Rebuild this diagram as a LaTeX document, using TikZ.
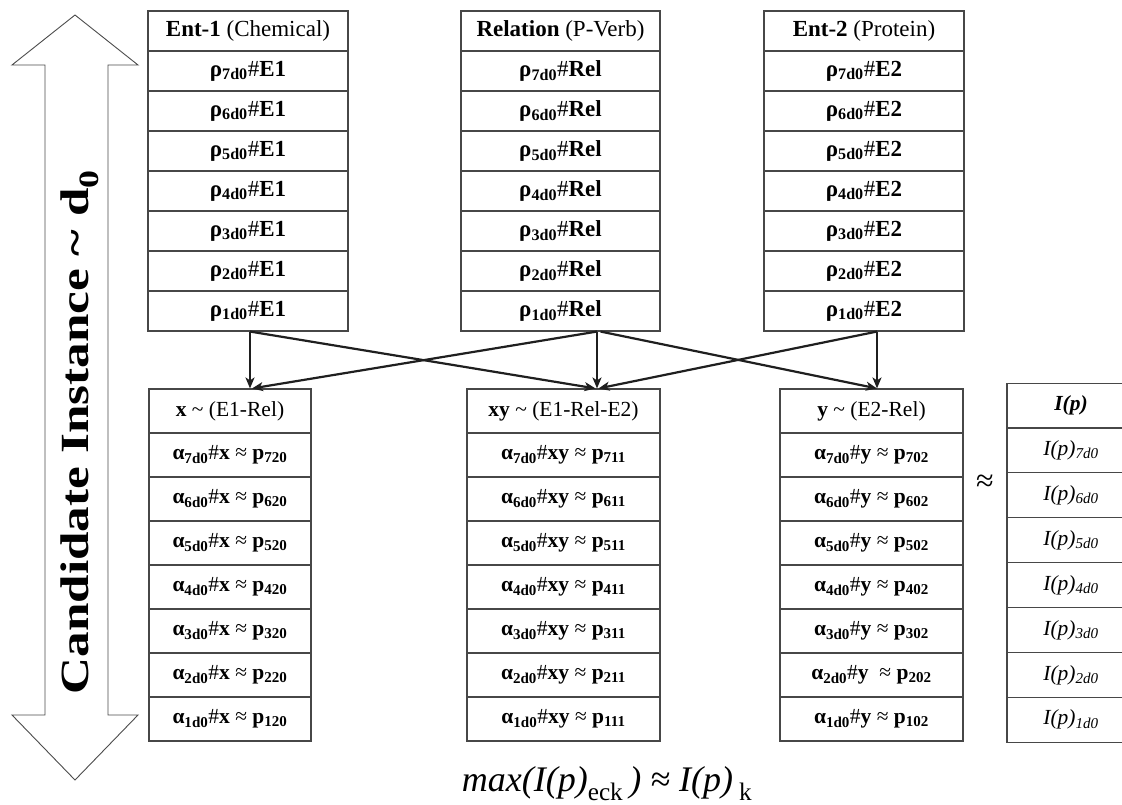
\documentclass[tikz,border=0pt]{standalone}
\usepackage{fontspec}
\setmainfont{Liberation Serif}
\usetikzlibrary{arrows.meta}

\tikzset{
  cellbox/.style={draw=black!72, line width=1.1pt, inner sep=0pt, minimum width=#1, anchor=center},
  toprow/.style={cellbox=#1, minimum height=40, font=\fontsize{23}{26}\selectfont},
  botrow/.style={cellbox=#1, minimum height=44, font=\fontsize{21.5}{25}\selectfont},
  iprow/.style={cellbox=#1, minimum height=44.9, font=\fontsize{21.5}{25}\selectfont},
  link/.style={line width=2.2pt, draw=black!88, -{Stealth[length=11pt,width=9pt,inset=3pt]}},
}
\newcommand{\rhotxt}[2]{\textbf{ρ\textsubscript{#1}}\#\textbf{#2}}
\newcommand{\alphatxt}[3]{\textbf{α\textsubscript{#1}}\#\textbf{#2} ≈ \textbf{p\textsubscript{#3}}}
\newcommand{\iptxt}[1]{\textit{I(p)\textsubscript{#1}}}

\begin{document}
\begin{tikzpicture}[x=1pt, y=-1pt]

  %% ════ double arrow on the left ════
  \draw[line width=0.9pt, draw=black!70, fill=white]
    (75,15) -- (138,65) -- (108,65) -- (108,715) -- (138,715) -- (75,780)
    -- (12,715) -- (45,715) -- (45,65) -- (12,65) -- cycle;
  \node[rotate=90, xscale=1.28, font=\fontsize{40}{46}\selectfont\bfseries] (axis) at (80,432)
    {Candidate Instance \textasciitilde{} d\textsubscript{0}};

  %% ════ top tables: Ent-1 / Relation / Ent-2 ════
  \node[toprow=200] (e1h) at (248,31)  {\textbf{Ent-1} (Chemical)};
  \node[toprow=200] (e17) at (248,71)  {\rhotxt{7d0}{E1}};
  \node[toprow=200] (e16) at (248,111) {\rhotxt{6d0}{E1}};
  \node[toprow=200] (e15) at (248,151) {\rhotxt{5d0}{E1}};
  \node[toprow=200] (e14) at (248,191) {\rhotxt{4d0}{E1}};
  \node[toprow=200] (e13) at (248,231) {\rhotxt{3d0}{E1}};
  \node[toprow=200] (e12) at (248,271) {\rhotxt{2d0}{E1}};
  \node[toprow=200] (e11) at (248,311) {\rhotxt{1d0}{E1}};

  \node[toprow=199] (relh) at (560.5,31)  {\textbf{Relation} (P-Verb)};
  \node[toprow=199] (rel7) at (560.5,71)  {\rhotxt{7d0}{Rel}};
  \node[toprow=199] (rel6) at (560.5,111) {\rhotxt{6d0}{Rel}};
  \node[toprow=199] (rel5) at (560.5,151) {\rhotxt{5d0}{Rel}};
  \node[toprow=199] (rel4) at (560.5,191) {\rhotxt{4d0}{Rel}};
  \node[toprow=199] (rel3) at (560.5,231) {\rhotxt{3d0}{Rel}};
  \node[toprow=199] (rel2) at (560.5,271) {\rhotxt{2d0}{Rel}};
  \node[toprow=199] (rel1) at (560.5,311) {\rhotxt{1d0}{Rel}};

  \node[toprow=200] (e2h) at (864,31)  {\textbf{Ent-2} (Protein)};
  \node[toprow=200] (e27) at (864,71)  {\rhotxt{7d0}{E2}};
  \node[toprow=200] (e26) at (864,111) {\rhotxt{6d0}{E2}};
  \node[toprow=200] (e25) at (864,151) {\rhotxt{5d0}{E2}};
  \node[toprow=200] (e24) at (864,191) {\rhotxt{4d0}{E2}};
  \node[toprow=200] (e23) at (864,231) {\rhotxt{3d0}{E2}};
  \node[toprow=200] (e22) at (864,271) {\rhotxt{2d0}{E2}};
  \node[toprow=200] (e21) at (864,311) {\rhotxt{1d0}{E2}};

  %% ════ bottom tables: x / xy / y / I(p) ════
  \node[botrow=162] (xh) at (230,411) {\textbf{x} \textasciitilde{} (E1-Rel)};
  \node[botrow=162] (x7) at (230,455) {\alphatxt{7d0}{x}{720}};
  \node[botrow=162] (x6) at (230,499) {\alphatxt{6d0}{x}{620}};
  \node[botrow=162] (x5) at (230,543) {\alphatxt{5d0}{x}{520}};
  \node[botrow=162] (x4) at (230,587) {\alphatxt{4d0}{x}{420}};
  \node[botrow=162] (x3) at (230,631) {\alphatxt{3d0}{x}{320}};
  \node[botrow=162] (x2) at (230,675) {\alphatxt{2d0}{x}{220}};
  \node[botrow=162] (x1) at (230,719) {\alphatxt{1d0}{x}{120}};

  \node[botrow=193] (xyh) at (563.5,411) {\textbf{xy} \textasciitilde{} (E1-Rel-E2)};
  \node[botrow=193] (xy7) at (563.5,455) {\alphatxt{7d0}{xy}{711}};
  \node[botrow=193] (xy6) at (563.5,499) {\alphatxt{6d0}{xy}{611}};
  \node[botrow=193] (xy5) at (563.5,543) {\alphatxt{5d0}{xy}{511}};
  \node[botrow=193] (xy4) at (563.5,587) {\alphatxt{4d0}{xy}{411}};
  \node[botrow=193] (xy3) at (563.5,631) {\alphatxt{3d0}{xy}{311}};
  \node[botrow=193] (xy2) at (563.5,675) {\alphatxt{2d0}{xy}{211}};
  \node[botrow=193] (xy1) at (563.5,719) {\alphatxt{1d0}{xy}{111}};

  \node[botrow=183] (yh) at (871.5,411) {\textbf{y} \textasciitilde{} (E2-Rel)};
  \node[botrow=183] (y7) at (871.5,455) {\alphatxt{7d0}{y}{702}};
  \node[botrow=183] (y6) at (871.5,499) {\alphatxt{6d0}{y}{602}};
  \node[botrow=183] (y5) at (871.5,543) {\alphatxt{5d0}{y}{502}};
  \node[botrow=183] (y4) at (871.5,587) {\alphatxt{4d0}{y}{402}};
  \node[botrow=183] (y3) at (871.5,631) {\alphatxt{3d0}{y}{302}};
  \node[botrow=183] (y2) at (871.5,675) {\alphatxt{2d0}{y\ }{202}};
  \node[botrow=183] (y1) at (871.5,719) {\alphatxt{1d0}{y}{102}};

  \node[iprow=128] (iph) at (1071,405.5) {\textbf{\textit{I(p)}}};
  \node[iprow=128] (ip7) at (1071,450.4) {\iptxt{7d0}};
  \node[iprow=128] (ip6) at (1071,495.3) {\iptxt{6d0}};
  \node[iprow=128] (ip5) at (1071,540.2) {\iptxt{5d0}};
  \node[iprow=128] (ip4) at (1071,585.1) {\iptxt{4d0}};
  \node[iprow=128] (ip3) at (1071,630.0) {\iptxt{3d0}};
  \node[iprow=128] (ip2) at (1071,674.9) {\iptxt{2d0}};
  \node[iprow=128] (ip1) at (1071,719.8) {\iptxt{1d0}};

  \node[font=\fontsize{32}{36}\selectfont] (approx) at (985,483) {≈};
  \node[font=\fontsize{36}{40}\selectfont\itshape] (maxeq) at (607,784)
    {max(I(p)\textsubscript{\upshape eck}\,) ≈ I(p)\,\textsubscript{\upshape k}};

  %% ════ arrows between the tables ════
  \draw[link] ([xshift=2]e11.south) -- ([xshift=20]xh.north);
  \draw[link] ([xshift=2]e11.south) -- ([xshift=32]xyh.north);
  \draw[link] ([xshift=36.5]rel1.south) -- ([xshift=22]xh.north);
  \draw[link] ([xshift=36.5]rel1.south) -- ([xshift=33.5]xyh.north);
  \draw[link] ([xshift=40]rel1.south) -- ([xshift=5.5]yh.north);
  \draw[link] ([xshift=13]e21.south) -- ([xshift=35]xyh.north);
  \draw[link] ([xshift=13]e21.south) -- ([xshift=5.5]yh.north);

  \pgfresetboundingbox
  \path[use as bounding box] (0,0) rectangle (1122,805);
\end{tikzpicture}
\end{document}
